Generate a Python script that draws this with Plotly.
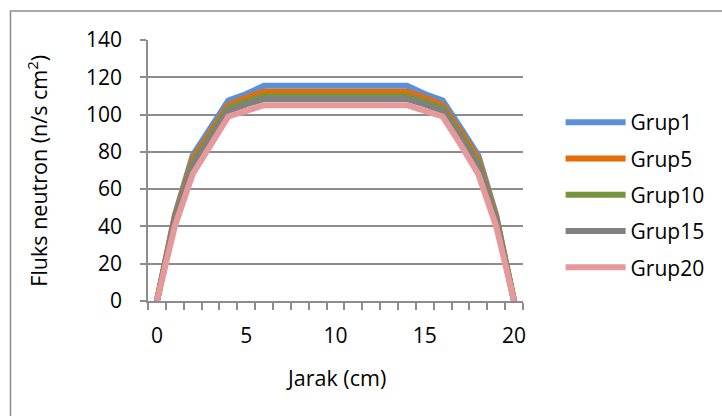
import plotly.graph_objects as go

jarak = list(range(0, 21))
grup1 = [0, 46, 78, 93, 107.5, 111, 115.5, 115.5, 115.5, 115.5, 115.5, 115.5, 115.5, 115.5, 115.5, 111, 107.5, 93, 78, 46, 0]
grup5 = [0, 45, 76, 91, 105, 109, 112.3, 112.3, 112.3, 112.3, 112.3, 112.3, 112.3, 112.3, 112.3, 109, 105, 91, 76, 45, 0]
grup10 = [0, 44, 74, 89, 103.5, 107, 110, 110, 110, 110, 110, 110, 110, 110, 110, 107, 103.5, 89, 74, 44, 0]
grup15 = [0, 43, 72.5, 87.5, 102, 105.5, 108.3, 108.3, 108.3, 108.3, 108.3, 108.3, 108.3, 108.3, 108.3, 105.5, 102, 87.5, 72.5, 43, 0]
grup20 = [0, 40, 68, 84, 99, 102, 105, 105, 105, 105, 105, 105, 105, 105, 105, 102, 99, 84, 68, 40, 0]

names = ["Grup1", "Grup5", "Grup10", "Grup15", "Grup20"]
series = [grup1, grup5, grup10, grup15, grup20]
colors = ["#5B8FD8", "#E46C0A", "#77933C", "#808080", "#E6999B"]

x_ticks = [0, 5, 10, 15, 20]
y_ticks = [0, 20, 40, 60, 80, 100, 120, 140]

FONT = "Open Sans"
GRID = "#8C8C8C"

fig = go.Figure()
for n, s, c in zip(names, series, colors):
    fig.add_trace(go.Scatter(x=jarak, y=s, mode="lines", name=n, legendgroup=n,
                             line=dict(color=c, width=6)))

L, R, T, B = 148, 195, 40, 115
W, H = 722, 416
pw, ph = W - L - R, H - T - B

minor_vals = [v - 0.5 for v in jarak] + [jarak[-1] + 0.5]

fig.update_layout(
    width=W, height=H,
    margin=dict(l=L, r=R, t=T, b=B),
    paper_bgcolor="white", plot_bgcolor="white",
    font=dict(family=FONT, size=21, color="black"),
    showlegend=True,
    legend=dict(x=(565 - L) / pw, xanchor="left", y=(301 - 102) / ph, yanchor="top",
                tracegroupgap=6, itemwidth=60, font=dict(size=21, family=FONT),
                bgcolor="rgba(0,0,0,0)"),
    xaxis=dict(range=[-0.5, 20.5], tickvals=x_ticks, ticks="", showgrid=False,
               showline=True, linecolor=GRID, linewidth=1.5, zeroline=False,
               ticklabelstandoff=15,
               minor=dict(tickvals=minor_vals, ticks="outside", ticklen=7,
                          tickcolor=GRID, tickwidth=1.5, showgrid=False)),
    yaxis=dict(range=[0, 140], tickvals=y_ticks, ticks="outside", ticklen=6,
               tickcolor=GRID, tickwidth=1.5, showgrid=True, gridcolor=GRID,
               gridwidth=1.5, showline=True, linecolor=GRID, linewidth=1.5,
               zeroline=False, ticklabelstandoff=14),
    annotations=[
        dict(text="Fluks neutron (n/s cm<sup>2</sup>)", textangle=-90,
             xref="paper", yref="paper", x=(36 - L) / pw, y=0.5,
             xanchor="center", yanchor="middle", showarrow=False,
             font=dict(size=21.5, family=FONT)),
        dict(text="Jarak (cm)", xref="paper", yref="paper",
             x=(338 - L) / pw, y=(301 - 377) / ph, xanchor="center",
             yanchor="middle", showarrow=False, font=dict(size=21.5, family=FONT)),
    ],
    shapes=[
        dict(type="path", xref="paper", yref="paper",
             path=f"M {(730 - L) / pw},{(301 - 11) / ph} L {(9 - L) / pw},{(301 - 11) / ph} L {(9 - L) / pw},{(301 - 430) / ph}",
             line=dict(color=GRID, width=1.5)),
    ],
)

fig.write_html("out.html")
